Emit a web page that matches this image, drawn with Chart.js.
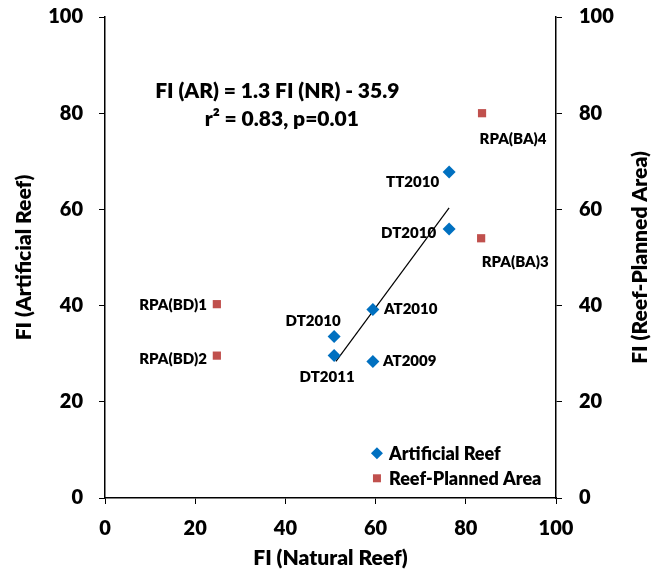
<!DOCTYPE html>
<html>
<head>
<meta charset="utf-8">
<script src="https://cdn.jsdelivr.net/npm/chart.js@4"></script>
<style>
  html, body { margin: 0; padding: 0; background: #fff; }
</style>
</head>
<body>
<canvas id="fi" width="660" height="574"></canvas>
<script>
// data
const arNames = ['DT2010', 'DT2011', 'AT2010', 'AT2009', 'TT2010', 'DT2010'];
const arNR = [50.8, 50.8, 59.4, 59.4, 76.3, 76.3];
const arAR = [33.6, 29.6, 39.2, 28.4, 67.8, 55.9];

const rpaNames = ['RPA(BD)1', 'RPA(BD)2', 'RPA(BA)4', 'RPA(BA)3'];
const rpaNR = [24.8, 24.8, 83.6, 83.4];
const rpaFI = [40.3, 29.6, 80.0, 54.0];

const fitX = [51.2, 76.3];
const fitY = [28.4, 60.3];

const eqLines = ['FI (AR) = 1.3 FI (NR) - 35.9', 'r\u00B2 = 0.83, p=0.01'];
const rightTitle = 'FI (Reef-Planned Area)';

const BLUE = '#0070C0';
const RED = '#C0504D';
const FONT = 'Lato, "Open Sans", sans-serif';
const W = '800';

function pts(xs, ys) {
  return xs.map((x, i) => ({ x: x, y: ys[i] }));
}

// where each point label sits relative to its marker: [dx, dy, align]
const arPlace = [[-21, -15, 'center'], [-7, 22, 'center'], [11, 0, 'left'], [10, 0, 'left'], [-10, 10, 'right'], [-13, 4, 'right']];
const rpaPlace = [[-10, 1, 'right'], [-10, 4, 'right'], [31, 26, 'center'], [34, 24, 'center']];

const extras = {
  id: 'extras',
  afterDatasetsDraw(chart) {
    const ctx = chart.ctx;
    ctx.save();
    ctx.fillStyle = '#000';
    ctx.textBaseline = 'middle';
    ctx.font = W + ' 15px ' + FONT;
    [[0, arNames, arPlace], [1, rpaNames, rpaPlace]].forEach(([di, names, place]) => {
      chart.getDatasetMeta(di).data.forEach((el, i) => {
        ctx.textAlign = place[i][2];
        ctx.fillText(names[i], el.x + place[i][0], el.y + place[i][1]);
      });
    });

    // equation text
    const xs = chart.scales.x, ys = chart.scales.y;
    ctx.font = W + ' 21px ' + FONT;
    ctx.textAlign = 'center';
    ctx.fillText(eqLines[0], xs.getPixelForValue(38.2), ys.getPixelForValue(84.5));
    ctx.fillText(eqLines[1], xs.getPixelForValue(39.2), ys.getPixelForValue(78.7));

    // legend inside the plot
    const lx = xs.getPixelForValue(60.3);
    const items = [[chart.data.datasets[0], ys.getPixelForValue(9.3)], [chart.data.datasets[1], ys.getPixelForValue(4.1)]];
    ctx.font = W + ' 18px ' + FONT;
    ctx.textAlign = 'left';
    items.forEach(([ds, y]) => {
      ctx.fillStyle = ds.backgroundColor;
      ctx.beginPath();
      if (ds.pointStyle === 'rectRot') {
        ctx.moveTo(lx - 6, y); ctx.lineTo(lx, y - 6); ctx.lineTo(lx + 6, y); ctx.lineTo(lx, y + 6);
      } else {
        ctx.rect(lx - 4, y - 4, 8, 8);
      }
      ctx.fill();
      ctx.fillStyle = '#000';
      ctx.fillText(ds.label, lx + 12, y + 1);
    });

    // right axis title reads bottom to top
    const area = chart.chartArea;
    ctx.font = W + ' 21px ' + FONT;
    ctx.translate(640, (area.top + area.bottom) / 2);
    ctx.rotate(-Math.PI / 2);
    ctx.textAlign = 'center';
    ctx.fillText(rightTitle, 0, 0);
    ctx.restore();
  }
};

const tickFont = { family: FONT, size: 20, weight: W };
const titleFont = { family: FONT, size: 21, weight: W };
const gridOpts = { drawOnChartArea: false, color: '#000', tickLength: 6, tickColor: '#000' };

function fitSide(width) {
  return s => {
    s.width = width;
    s.paddingTop = 17;
    s.paddingBottom = 10;
  };
}

new Chart(document.getElementById('fi'), {
  type: 'scatter',
  data: {
    datasets: [{
      label: 'Artificial Reef',
      data: pts(arNR, arAR),
      yAxisID: 'y',
      pointStyle: 'rectRot',
      pointRadius: 6.5,
      backgroundColor: BLUE,
      borderWidth: 0,
    }, {
      label: 'Reef-Planned Area',
      data: pts(rpaNR, rpaFI),
      yAxisID: 'y2',
      pointStyle: 'rect',
      pointRadius: 5.8,
      backgroundColor: RED,
      borderWidth: 0,
    }, {
      type: 'line',
      label: 'fit',
      data: pts(fitX, fitY),
      yAxisID: 'y',
      borderColor: '#000',
      borderWidth: 1.2,
      pointRadius: 0,
      fill: false,
    }],
  },
  options: {
    responsive: false,
    animation: false,
    layout: { padding: 0 },
    plugins: { legend: { display: false }, tooltip: { enabled: false } },
    scales: {
      x: {
        type: 'linear', min: 0, max: 100,
        ticks: { stepSize: 20, color: '#000', font: tickFont, padding: 13 },
        grid: gridOpts,
        border: { color: '#000', width: 1.5 },
        title: { display: true, text: 'FI (Natural Reef)', color: '#000', font: titleFont, padding: { top: 0, bottom: 3 } },
        afterFit: s => { s.height = 76; },
      },
      y: {
        position: 'left', min: 0, max: 100,
        ticks: { stepSize: 20, color: '#000', font: tickFont, padding: 16 },
        grid: gridOpts,
        border: { color: '#000', width: 1.5 },
        title: { display: true, text: 'FI (Artificial Reef)', color: '#000', font: titleFont, padding: { top: 12, bottom: 0 } },
        afterFit: fitSide(105),
      },
      y2: {
        position: 'right', min: 0, max: 100,
        ticks: { stepSize: 20, color: '#000', font: tickFont, padding: 17 },
        grid: gridOpts,
        border: { color: '#000', width: 1.5 },
        afterFit: fitSide(104),
      },
    },
  },
  plugins: [extras],
});
</script>
</body>
</html>
